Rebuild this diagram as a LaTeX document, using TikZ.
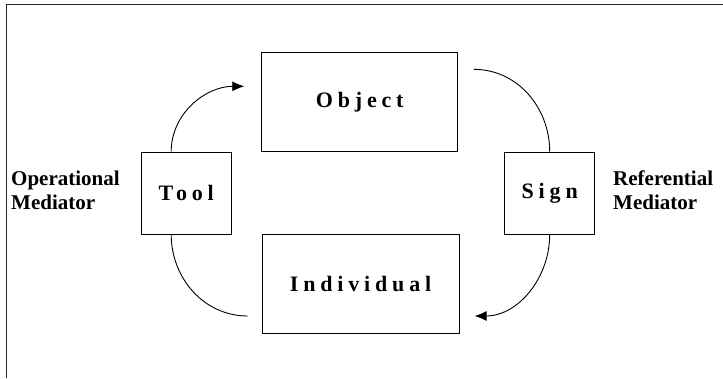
\documentclass[tikz,border=0pt]{standalone}
\usepackage{fontspec}
\setmainfont{Liberation Serif}
\usetikzlibrary{arrows.meta, positioning}

\begin{document}
\begin{tikzpicture}[
    x=1pt, y=-1pt,
    box/.style={draw, line width=0.9pt, font=\fontsize{22}{26}\selectfont\bfseries\addfontfeature{LetterSpace=22}},
    arrow/.style={-{Latex[length=12pt, width=10pt]}, line width=0.9pt},
    curve/.style={line width=0.9pt},
    mediator/.style={font=\fontsize{21}{24}\selectfont\bfseries, align=left, anchor=west, inner sep=0pt},
]
\useasboundingbox (0,0) rectangle (723,378);

% Frame
\draw[line width=0.6pt, gray!30!black] (6.5,378) -- (6.5,4.7) -- (723,4.7);

% Object and individual
\node[box, minimum width=196pt, minimum height=99pt] (obj) at (359.7,102.3) {Object};
\node[box, minimum width=197pt, minimum height=99pt] (ind) at (360.6,283.5) {Individual};

% Mediators
\node[box, minimum width=89.5pt, minimum height=82pt] (tool) at (186.2,193) {Tool};
\node[box, minimum width=90pt, minimum height=82pt] (sign) at (549.7,193) {Sign};

% Labels
\node[mediator] (oplabel) at (11,190) {Operational\\Mediator};
\node[mediator] (reflabel) at (613,190) {Referential\\Mediator};

% Arrows
\draw[arrow] ([xshift=-15pt]tool.north) to[out=90, in=180] ([xshift=-17pt, yshift=16pt]obj.west);
\draw[curve] ([xshift=15.5pt, yshift=33pt]obj.east) to[out=0, in=90] (sign.north);
\draw[arrow] (sign.south) to[out=270, in=0] ([xshift=15pt, yshift=-32.5pt]ind.east);
\draw[curve] ([xshift=-14pt, yshift=-32.5pt]ind.west) to[out=180, in=270] ([xshift=-15pt]tool.south);
\end{tikzpicture}
\end{document}
